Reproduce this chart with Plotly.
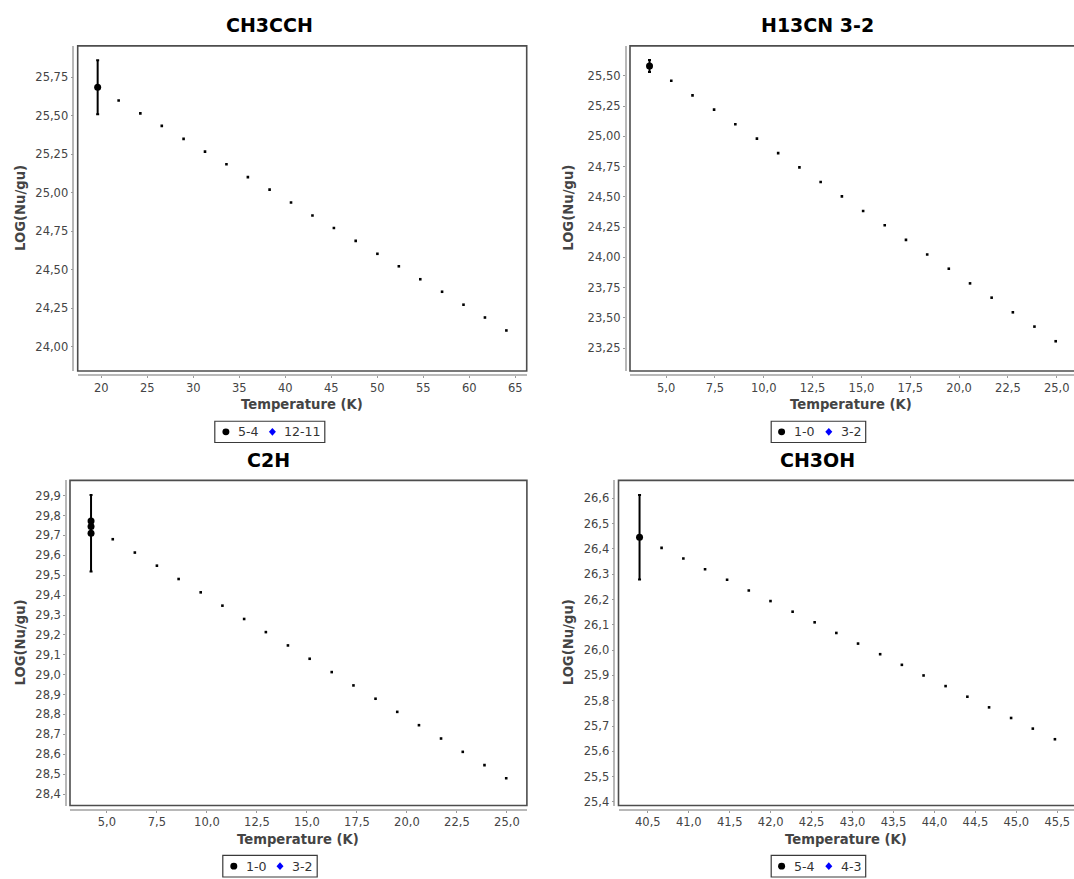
import plotly.graph_objects as go

W, H = 1074, 879

# ---------------- data ----------------
# CH3CCH: observed point (5-4) and rotational-diagram fit samples
ch3cch_obs_t = [19.6]
ch3cch_obs_logn = [25.683]
ch3cch_obs_err = [0.175]
ch3cch_fit_t = [21.88, 24.24, 26.57, 28.94, 31.27, 33.60, 35.93, 38.29, 40.62, 42.95,
                45.28, 47.65, 50.01, 52.34, 54.67, 57.04, 59.37, 61.70, 64.03]
ch3cch_fit_logn = [25.598, 25.514, 25.433, 25.349, 25.266, 25.184, 25.101, 25.020, 24.936, 24.852,
                   24.771, 24.688, 24.604, 24.523, 24.439, 24.358, 24.274, 24.191, 24.107]

# H13CN 3-2
h13cn_obs_t = [4.15]
h13cn_obs_logn = [25.58]
h13cn_obs_err = [0.05]
h13cn_fit_t = [5.263, 6.351, 7.456, 8.544, 9.649, 10.737, 11.825, 12.912, 14.000, 15.088,
               16.193, 17.281, 18.368, 19.474, 20.561, 21.667, 22.754, 23.860, 24.947]
h13cn_fit_logn = [25.459, 25.338, 25.220, 25.099, 24.981, 24.861, 24.743, 24.622, 24.504, 24.383,
                  24.265, 24.144, 24.024, 23.906, 23.785, 23.667, 23.546, 23.428, 23.307]

# C2H
c2h_obs_t = [4.207, 4.207, 4.207]
c2h_obs_logn = [29.773, 29.745, 29.711]
c2h_obs_err = [0.0, 0.0, 0.192]
c2h_fit_t = [5.293, 6.397, 7.500, 8.586, 9.690, 10.776, 11.862, 12.948, 14.052, 15.138,
             16.241, 17.328, 18.431, 19.517, 20.603, 21.707, 22.793, 23.879, 24.966]
c2h_fit_logn = [29.681, 29.614, 29.548, 29.481, 29.414, 29.347, 29.280, 29.214, 29.147, 29.080,
                29.013, 28.946, 28.879, 28.813, 28.746, 28.679, 28.612, 28.545, 28.479]

# CH3OH
ch3oh_obs_t = [40.399]
ch3oh_obs_logn = [26.446]
ch3oh_obs_err = [0.167]
ch3oh_fit_t = [40.668, 40.934, 41.199, 41.468, 41.733, 41.998, 42.268, 42.537, 42.802, 43.067,
               43.337, 43.602, 43.867, 44.136, 44.402, 44.667, 44.936, 45.201, 45.471]
ch3oh_fit_logn = [26.404, 26.362, 26.320, 26.278, 26.236, 26.194, 26.152, 26.110, 26.068, 26.026,
                  25.984, 25.942, 25.900, 25.858, 25.816, 25.774, 25.732, 25.690, 25.648]

titles = ["CH3CCH", "H13CN 3-2", "C2H", "CH3OH"]
legend_labels = [("5-4", "12-11"), ("1-0", "3-2"), ("1-0", "3-2"), ("5-4", "4-3")]
x_title = "Temperature (K)"
y_title = "LOG(Nu/gu)"

# ---------------- layout helpers (pixel -> paper) ----------------
def px(x):
    return x / W


def py(y):
    return 1 - y / H


FONT = "DejaVu Sans"
TICK_COLOR = "#444444"

panels = [
    dict(obs=(ch3cch_obs_t, ch3cch_obs_logn, ch3cch_obs_err), fit=(ch3cch_fit_t, ch3cch_fit_logn),
         frame=(77.7, 526.7, 46.0, 372.3), yline=73.3, xline=376.7,
         xr=[17.43, 66.24], yr=[23.844, 25.952], xd=5, x0=20, xf="d", yd=0.25, y0=24.0, yf=".2f",
         title_xy=(269, 25), xt_xy=(302, 406), yt_xy=(20.7, 209),
         leg=(214.8, 324.8, 422.7, 444.0), leg_items=(225.9, 237.2, 272.4, 283.4)),
    dict(obs=(h13cn_obs_t, h13cn_obs_logn, h13cn_obs_err), fit=(h13cn_fit_t, h13cn_fit_logn),
         frame=(630.0, 1074.0, 46.0, 372.3), yline=625.6, xline=376.7,
         xr=[3.15, 25.885], yr=[23.061, 25.747], xd=2.5, x0=5.0, xf=".1f", yd=0.25, y0=23.25, yf=".2f",
         title_xy=(817, 25), xt_xy=(850.6, 406), yt_xy=(568.5, 209),
         leg=(771.2, 865.7, 422.7, 444.0), leg_items=(781.6, 793.3, 828.8, 839.9)),
    dict(obs=(c2h_obs_t, c2h_obs_logn, c2h_obs_err), fit=(c2h_fit_t, c2h_fit_logn),
         frame=(70.0, 526.9, 482.0, 808.3), yline=66.0, xline=812.7,
         xr=[3.155, 26.0], yr=[28.342, 29.977], xd=2.5, x0=5.0, xf=".1f", yd=0.1, y0=28.4, yf=".1f",
         title_xy=(268.6, 461.7), xt_xy=(297.6, 842.7), yt_xy=(20.7, 645),
         leg=(222.8, 317.2, 858.3, 880.0), leg_items=(233.8, 244.8, 280.0, 291.4)),
    dict(obs=(ch3oh_obs_t, ch3oh_obs_logn, ch3oh_obs_err), fit=(ch3oh_fit_t, ch3oh_fit_logn),
         frame=(618.5, 1074.0, 482.0, 808.3), yline=614.3, xline=812.7,
         xr=[40.142, 45.704], yr=[25.386, 26.671], xd=0.5, x0=40.5, xf=".1f", yd=0.1, y0=25.4, yf=".1f",
         title_xy=(817.3, 461.7), xt_xy=(846, 842.7), yt_xy=(568.5, 645),
         leg=(771.2, 865.7, 858.3, 880.0), leg_items=(781.6, 793.3, 828.8, 839.9)),
]

fig = go.Figure()
layout = dict(
    width=W, height=H, margin=dict(l=0, r=0, t=0, b=0),
    paper_bgcolor="white", plot_bgcolor="white",
    separators=",.", showlegend=False,
    font=dict(family=FONT, size=11.5, color=TICK_COLOR),
)
shapes = []
annotations = []

for i, p in enumerate(panels, start=1):
    xa = "x" if i == 1 else f"x{i}"
    ya = "y" if i == 1 else f"y{i}"
    fx0, fx1, fy0, fy1 = p["frame"]

    # fitted line, sampled as small square dots
    fig.add_trace(go.Scatter(
        x=p["fit"][0], y=p["fit"][1], xaxis=xa, yaxis=ya, mode="markers",
        marker=dict(symbol="square", size=2.6, color="black", line=dict(width=0)),
        hoverinfo="x+y"))
    # observed transitions with error bars
    fig.add_trace(go.Scatter(
        x=p["obs"][0], y=p["obs"][1], xaxis=xa, yaxis=ya, mode="markers",
        marker=dict(symbol="circle", size=7, color="black", line=dict(width=0)),
        error_y=dict(type="data", array=p["obs"][2], visible=True, color="black",
                     thickness=2, width=1.5)))

    axis_common = dict(
        showgrid=False, zeroline=False, showline=True, linecolor="#b8b8b8", linewidth=1.5,
        ticks="outside", ticklen=2, tickwidth=1, tickcolor="#999999",
        tickfont=dict(family=FONT, size=11.5, color=TICK_COLOR),
        anchor="free", fixedrange=True,
    )
    layout["xaxis" if i == 1 else f"xaxis{i}"] = dict(
        axis_common, domain=[px(fx0), min(px(fx1), 1.0)], range=p["xr"],
        tickmode="linear", tick0=p["x0"], dtick=p["xd"], tickformat=p["xf"],
        position=py(p["xline"]))
    layout["yaxis" if i == 1 else f"yaxis{i}"] = dict(
        axis_common, domain=[py(fy1), py(fy0)], range=p["yr"],
        tickmode="linear", tick0=p["y0"], dtick=p["yd"], tickformat=p["yf"],
        position=px(p["yline"]))

    # plot frame (right edge of the right-hand panels runs off the page)
    right = 1.02 if fx1 >= W else 1.0
    shapes.append(dict(type="rect", xref=f"{xa} domain", yref=f"{ya} domain",
                       x0=0, x1=right, y0=0, y1=1, layer="above",
                       line=dict(color="#4d4d4d", width=1.6)))

    # titles
    annotations.append(dict(text=f"<b>{titles[i-1]}</b>", xref="paper", yref="paper",
                            x=px(p["title_xy"][0]), y=py(p["title_xy"][1]),
                            xanchor="center", yanchor="middle", showarrow=False,
                            font=dict(family=FONT, size=19, color="black")))
    annotations.append(dict(text=f"<b>{x_title}</b>", xref="paper", yref="paper",
                            x=px(p["xt_xy"][0]), y=py(p["xt_xy"][1]),
                            xanchor="center", yanchor="middle", showarrow=False,
                            font=dict(family=FONT, size=13.2, color="#444444")))
    annotations.append(dict(text=f"<b>{y_title}</b>", xref="paper", yref="paper",
                            x=px(p["yt_xy"][0]), y=py(p["yt_xy"][1]), textangle=-90,
                            xanchor="center", yanchor="middle", showarrow=False,
                            font=dict(family=FONT, size=13.2, color="#444444")))

    # legend box with a circle (first transition) and a blue diamond (second)
    lx0, lx1, ly0, ly1 = p["leg"]
    cy = (ly0 + ly1) / 2 if ly1 <= H else ly0 + 10.8
    shapes.append(dict(type="rect", xref="paper", yref="paper",
                       x0=px(lx0), x1=px(lx1), y0=py(ly1), y1=py(ly0),
                       line=dict(color="#3a3a3a", width=1.2), fillcolor="white"))
    c_x, t1_x, d_x, t2_x = p["leg_items"]
    r = 3.5
    shapes.append(dict(type="circle", xref="paper", yref="paper",
                       x0=px(c_x - r), x1=px(c_x + r), y0=py(cy + r), y1=py(cy - r),
                       fillcolor="black", line=dict(width=0)))
    shapes.append(dict(type="path", xref="paper", yref="paper",
                       path=(f"M {px(d_x)},{py(cy - 4)} L {px(d_x + 3.5)},{py(cy)} "
                             f"L {px(d_x)},{py(cy + 4)} L {px(d_x - 3.5)},{py(cy)} Z"),
                       fillcolor="#0000ff", line=dict(width=0)))
    for tx, label in ((t1_x, legend_labels[i-1][0]), (t2_x, legend_labels[i-1][1])):
        annotations.append(dict(text=label, xref="paper", yref="paper",
                                x=px(tx), y=py(cy), xanchor="left", yanchor="middle",
                                showarrow=False, xshift=-1,
                                font=dict(family=FONT, size=12.6, color="#333333")))

layout["shapes"] = shapes
layout["annotations"] = annotations
fig.update_layout(**layout)
fig.write_html("out.html")
